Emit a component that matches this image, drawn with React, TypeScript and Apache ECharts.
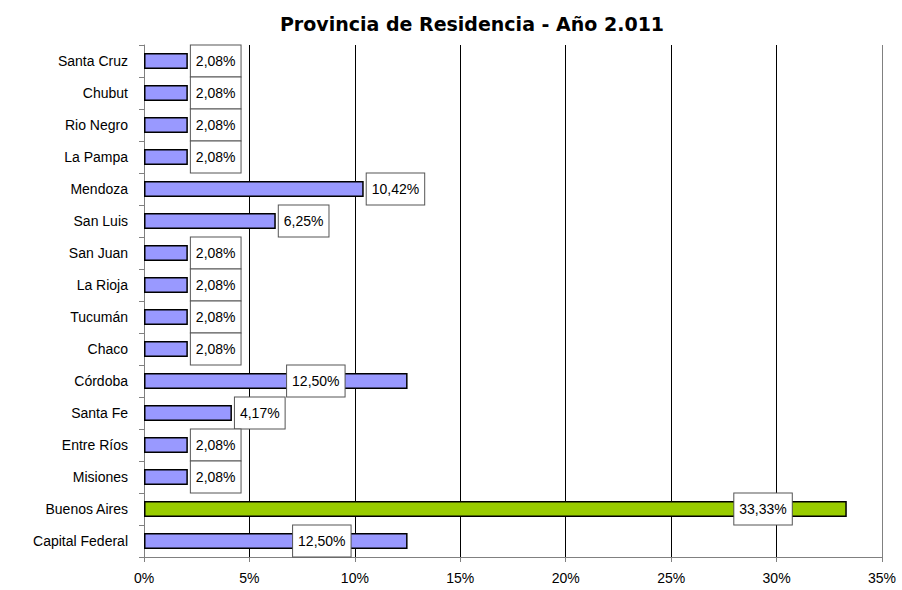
import React, { useEffect, useRef } from "react";
import * as echarts from "echarts";

const categories = [
  "Santa Cruz", "Chubut", "Rio Negro", "La Pampa", "Mendoza", "San Luis",
  "San Juan", "La Rioja", "Tucumán", "Chaco", "Córdoba", "Santa Fe",
  "Entre Ríos", "Misiones", "Buenos Aires", "Capital Federal",
];
const values = [
  2.08, 2.08, 2.08, 2.08, 10.42, 6.25, 2.08, 2.08, 2.08, 2.08, 12.5, 4.17,
  2.08, 2.08, 33.33, 12.5,
];
const xTicks = [0, 5, 10, 15, 20, 25, 30, 35];
const title = "Provincia de Residencia - Año 2.011";

// label placement style (inside labels for a few bars)
const insideOffset: Record<string, number> = {
  "Córdoba": -63,
  "Buenos Aires": -55,
  "Capital Federal": -57,
};

export default function App() {
  const ref = useRef<HTMLDivElement>(null);
  useEffect(() => {
    if (!ref.current) return;
    const chart = echarts.init(ref.current, undefined, { renderer: "svg" });
    const data = values.map((v, i) => {
      const name = categories[i];
      const item: any = {
        value: v,
        itemStyle: { color: name === "Buenos Aires" ? "#99CC00" : "#9999FF" },
      };
      if (insideOffset[name] !== undefined) {
        item.label = { position: "insideRight", distance: 0, offset: [insideOffset[name], 0] };
      }
      return item;
    });
    chart.setOption({
      animation: false,
      backgroundColor: "#fff",
      title: {
        text: title,
        left: 467,
        textAlign: "center",
        top: 9,
        textStyle: { fontFamily: "DejaVu Sans", fontWeight: "bold", fontSize: 19, color: "#000" },
      },
      grid: { left: 144, right: 20, top: 45, bottom: 33 },
      xAxis: {
        type: "value",
        min: xTicks[0],
        max: xTicks[xTicks.length - 1],
        interval: 5,
        axisLine: { show: true, lineStyle: { color: "#808080", width: 1 } },
        axisTick: { show: true, length: 5, lineStyle: { color: "#808080" } },
        axisLabel: {
          formatter: "{value}%",
          fontFamily: "Liberation Sans",
          fontSize: 14,
          color: "#000",
          margin: 14,
        },
        splitLine: {
          show: true,
          lineStyle: {
            color: ["#808080", "#000", "#000", "#000", "#000", "#000", "#000", "#808080"],
            width: 1,
          },
        },
      },
      yAxis: {
        type: "category",
        data: categories,
        inverse: true,
        axisLine: { show: true, lineStyle: { color: "#808080", width: 1 } },
        axisTick: { show: true, length: 5, lineStyle: { color: "#808080" } },
        axisLabel: {
          fontFamily: "Liberation Sans",
          fontSize: 14,
          color: "#000",
          margin: 16,
        },
      },
      series: [
        {
          type: "bar",
          data,
          barWidth: "50%",
          itemStyle: { borderColor: "#000", borderWidth: 1.5 },
          label: {
            show: true,
            position: "right",
            distance: 3,
            formatter: (p: any) => p.value.toFixed(2).replace(".", ",") + "%",
            fontFamily: "Liberation Sans",
            fontSize: 14,
            color: "#000",
            backgroundColor: "#fff",
            borderColor: "#555",
            borderWidth: 1,
            padding: [8, 5],
            lineHeight: 15,
          },
        },
      ],
    });
    return () => chart.dispose();
  }, []);
  return (
    <div
      ref={ref}
      style={{ position: "fixed", left: 0, top: 0, width: 902, height: 590 }}
    />
  );
}
